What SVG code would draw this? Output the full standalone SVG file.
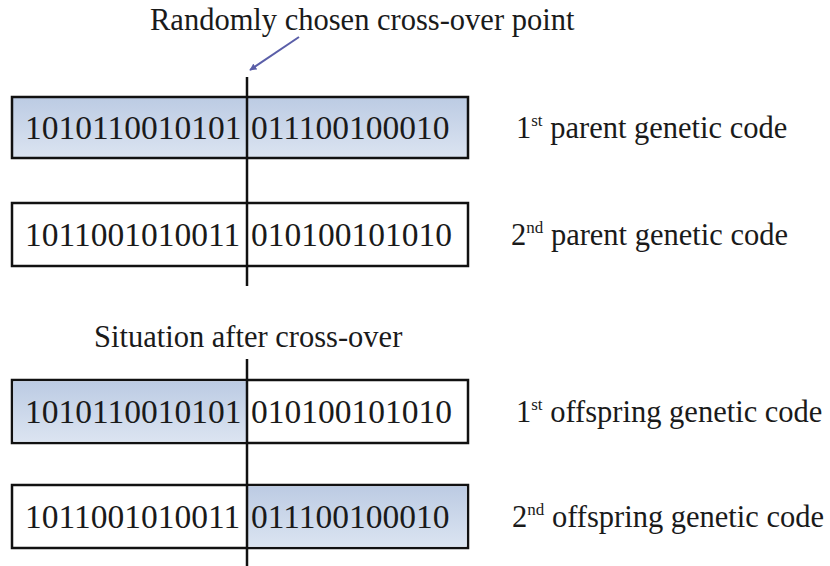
<svg xmlns="http://www.w3.org/2000/svg" width="830" height="566" viewBox="0 0 830 566">
<defs>
<style>
.t{font-family:"Liberation Serif","Times New Roman",serif;fill:#1a1a1a}
.d{font-size:33.5px}
.l{font-size:30.5px}
.sup{font-size:17px}
.box{fill:#ffffff;stroke:#111;stroke-width:2.5}
.blue{fill:url(#g)}
.cut{stroke:#111;stroke-width:2.5;fill:none}
</style>
<linearGradient id="g" x1="0" y1="0" x2="0" y2="1">
<stop offset="0" stop-color="#bccbe3"/>
<stop offset="1" stop-color="#dbe4f1"/>
</linearGradient>
<marker id="ah" viewBox="0 0 10 10" refX="9" refY="5" markerWidth="7" markerHeight="7" orient="auto" markerUnits="userSpaceOnUse">
<path d="M0,0 L10,5 L0,10 z" fill="#5a5ea8"/>
</marker>
</defs>
<rect width="830" height="566" fill="#ffffff"/>
<text class="t l" x="150" y="30">Randomly chosen cross-over point</text>
<text class="t l" x="94" y="347">Situation after cross-over</text>
<g id="parent1">
<rect x="12" y="97" width="456" height="61" fill="url(#g)" stroke="#111" stroke-width="2.5"/>
<text class="t d" x="25" y="139">1010110010101</text>
<text class="t d" x="251" y="139">011100100010</text>
<text class="t l" x="516" y="138">1<tspan class="sup" dy="-12">st</tspan><tspan dy="12"> parent genetic code</tspan></text>
</g>
<g id="parent2">
<rect class="box" x="12" y="203" width="456" height="63"/>
<text class="t d" x="25" y="246">1011001010011</text>
<text class="t d" x="251" y="246">010100101010</text>
<text class="t l" x="511" y="245">2<tspan class="sup" dy="-12">nd</tspan><tspan dy="12"> parent genetic code</tspan></text>
</g>
<g id="offspring1">
<rect class="box" x="12" y="380" width="456" height="63"/>
<rect x="13.25" y="381.25" width="234" height="60.5" fill="url(#g)"/>
<text class="t d" x="25" y="423">1010110010101</text>
<text class="t d" x="251" y="423">010100101010</text>
<text class="t l" x="516" y="422">1<tspan class="sup" dy="-12">st</tspan><tspan dy="12"> offspring genetic code</tspan></text>
</g>
<g id="offspring2">
<rect class="box" x="12" y="485" width="456" height="63"/>
<rect x="247" y="486.25" width="219.75" height="60.5" fill="url(#g)"/>
<text class="t d" x="25" y="528">1011001010011</text>
<text class="t d" x="251" y="528">011100100010</text>
<text class="t l" x="512" y="527">2<tspan class="sup" dy="-12">nd</tspan><tspan dy="12"> offspring genetic code</tspan></text>
</g>
<g id="connectors">
<line class="cut" x1="247" y1="77" x2="247" y2="286"/>
<line class="cut" x1="247" y1="359" x2="247" y2="566"/>
<line x1="299" y1="37" x2="250" y2="70" stroke="#5a5ea8" stroke-width="2" marker-end="url(#ah)"/>
</g>
</svg>
